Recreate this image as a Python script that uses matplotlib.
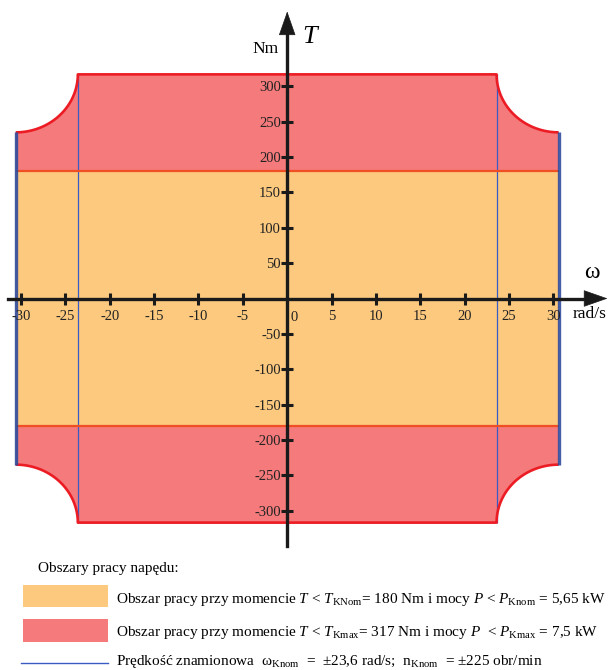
import numpy as np
import matplotlib.pyplot as plt
from matplotlib.patches import Rectangle
from matplotlib.lines import Line2D

plt.rcParams['font.family'] = ['Liberation Serif', 'DejaVu Serif']
plt.rcParams['mathtext.fontset'] = 'custom'
plt.rcParams['mathtext.rm'] = 'Liberation Serif'
plt.rcParams['mathtext.it'] = 'Liberation Serif:italic'
plt.rcParams['axes.unicode_minus'] = False

# drive limits
T_KMAX = 317           # Nm, max torque
T_KNOM = 180           # Nm, rated torque
OMEGA_KNOM = 23.6      # rad/s, rated speed
OMEGA_MAX = 30.6       # rad/s, speed limit
T_AT_OMEGA_MAX = 235   # Nm, torque at speed limit

omega_ticks = [-30, -25, -20, -15, -10, -5, 5, 10, 15, 20, 25, 30]
torque_ticks = [-300, -250, -200, -150, -100, -50, 50, 100, 150, 200, 250, 300]

legend_title = 'Obszary pracy napędu:'
legend_labels = [
    r'Obszar pracy przy momencie $T$ < $T_{\mathrm{KNom}}$= 180 Nm i mocy $P$ < $P_{\mathrm{Knom}}$ = 5,65 kW',
    r'Obszar pracy przy momencie $T$ < $T_{\mathrm{Kmax}}$= 317 Nm i mocy $P$  < $P_{\mathrm{Kmax}}$ = 7,5 kW',
    r'Prędkość znamionowa  $\mathrm{ω}_{\mathrm{Knom}}$  =  ±23,6 rad/s;  $\mathrm{n}_{\mathrm{Knom}}$  = ±225 obr/min',
]

ORANGE = '#FCC97E'
RED_FILL = '#F47A7B'
RED_LINE = '#EC1C24'
ORANGE_LINE = '#F04E23'
BLUE = '#3A5BC4'
BLUE_EDGE = '#2F4C9E'

W, H = 609, 670
X0_PX, Y0_PX = 287.2, 298.5
PX_PER_RAD, PX_PER_NM = 8.872, 0.707


def fig_xy(px, py):
    return px / W, 1 - py / H


def corner_arc(sx, sy, n=60):
    # quarter ellipse around the corner (sx*OMEGA_MAX, sy*T_KMAX)
    t = np.linspace(0, np.pi / 2, n)
    a = OMEGA_MAX - OMEGA_KNOM
    b = T_KMAX - T_AT_OMEGA_MAX
    return sx * (OMEGA_MAX - a * np.cos(t)), sy * (T_KMAX - b * np.sin(t))


fig = plt.figure(figsize=(W / 100, H / 100), dpi=100)
ax = fig.add_axes([0, 0, 1, 1])
ax.set_xlim(-X0_PX / PX_PER_RAD, (W - X0_PX) / PX_PER_RAD)
ax.set_ylim(-(H - Y0_PX) / PX_PER_NM, Y0_PX / PX_PER_NM)
ax.patch.set_visible(False)

# outer (max torque / max power) region
tr_x, tr_y = corner_arc(1, 1)
br_x, br_y = corner_arc(1, -1)
bl_x, bl_y = corner_arc(-1, -1)
tl_x, tl_y = corner_arc(-1, 1)
outline_x = np.concatenate([tr_x, br_x[::-1], bl_x, tl_x[::-1]])
outline_y = np.concatenate([tr_y, br_y[::-1], bl_y, tl_y[::-1]])
ax.fill(outline_x, outline_y, color=RED_FILL, lw=0, zorder=1)

# rated region
ax.fill_between([-OMEGA_MAX, OMEGA_MAX], -T_KNOM, T_KNOM, color=ORANGE, lw=0, zorder=1.1)

ax.vlines([-OMEGA_KNOM, OMEGA_KNOM], -T_KMAX, T_KMAX, color=BLUE, lw=0.9, zorder=1.2)
ax.hlines([-T_KNOM, T_KNOM], -OMEGA_MAX, OMEGA_MAX, color=ORANGE_LINE, lw=1.6, zorder=1.3)

top_x = np.concatenate([tl_x[::-1], tr_x])
top_y = np.concatenate([tl_y[::-1], tr_y])
ax.plot(top_x, top_y, color=RED_LINE, lw=1.9, zorder=1.4, solid_capstyle='butt')
bot_x = np.concatenate([bl_x[::-1], br_x])
bot_y = np.concatenate([bl_y[::-1], br_y])
ax.plot(bot_x, bot_y, color=RED_LINE, lw=1.9, zorder=1.4, solid_capstyle='butt')

ax.vlines([-OMEGA_MAX, OMEGA_MAX], -T_AT_OMEGA_MAX, T_AT_OMEGA_MAX,
          color=BLUE_EDGE, lw=2.4, alpha=0.9, zorder=1.5)

# axes through the origin
ax.set_axisbelow(False)
for side in ['top', 'right']:
    ax.spines[side].set_visible(False)
ax.spines['left'].set_position(('data', 0))
ax.spines['bottom'].set_position(('data', 0))
ax.spines['left'].set_bounds(-350, 382)
ax.spines['bottom'].set_bounds(-31.5, 33.8)
for side in ['left', 'bottom']:
    ax.spines[side].set_linewidth(2.4)
    ax.spines[side].set_color('#1a1a1a')

ax.set_xticks(omega_ticks)
ax.set_xticklabels([str(v) for v in omega_ticks])
ax.set_yticks(torque_ticks)
ax.set_yticklabels([str(v) for v in torque_ticks])
ax.tick_params(axis='both', direction='inout', length=8, width=2.2,
               color='#1a1a1a', labelsize=10.5, labelcolor='#222222')
ax.tick_params(axis='x', pad=4.5)
ax.tick_params(axis='y', pad=0.5)

ax.annotate('0', xy=(0, 0), xytext=(5, -13.5), textcoords='offset points',
            ha='center', va='center', fontsize=10.5, color='#222222')

head = dict(arrowstyle='-|>,head_length=0.8,head_width=0.28', color='#1a1a1a',
            lw=0.5, mutation_scale=20, shrinkA=0, shrinkB=0)
ax.annotate('', xy=(0, 406), xytext=(0, 378), arrowprops=head)
ax.annotate('', xy=(36.1, 0), xytext=(33.5, 0), arrowprops=head)

fig.text(*fig_xy(310, 37), 'T', fontsize=19, fontstyle='italic', ha='center', va='center')
fig.text(*fig_xy(266, 49), 'Nm', fontsize=12.5, ha='center', va='center')
fig.text(*fig_xy(592, 272), 'ω', fontsize=17, ha='center', va='center')
fig.text(*fig_xy(590, 314), 'rad/s', fontsize=12.5, ha='center', va='center')

# legend
fig.text(*fig_xy(38, 571.7), legend_title, fontsize=11, va='baseline')
fig.add_artist(Rectangle(fig_xy(22.7, 607), 85 / W, 22 / H, transform=fig.transFigure,
                         color=ORANGE, lw=0))
fig.add_artist(Rectangle(fig_xy(22.7, 642), 85 / W, 23 / H, transform=fig.transFigure,
                         color=RED_FILL, lw=0))
lx, ly = fig_xy(21, 663)
fig.add_artist(Line2D([lx, 108 / W], [ly, ly], transform=fig.transFigure, color=BLUE, lw=1))
for label, base in zip(legend_labels, [602.7, 636, 665.5]):
    fig.text(*fig_xy(116, base), label, fontsize=11, va='baseline')

fig.savefig('out.png', dpi=100)
